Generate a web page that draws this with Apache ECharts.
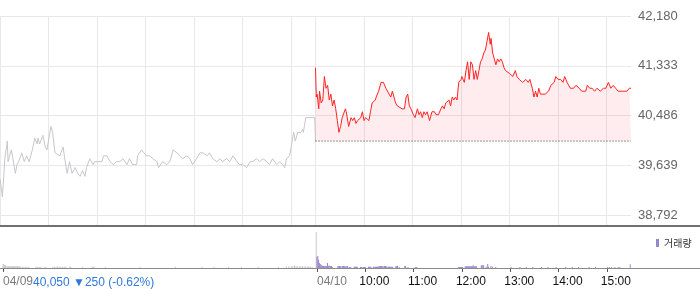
<!DOCTYPE html>
<html><head><meta charset="utf-8">
<script src="https://cdn.jsdelivr.net/npm/echarts/dist/echarts.min.js"></script>
<style>html,body{margin:0;padding:0;background:#fff}#c{width:700px;height:289px}</style>
</head><body><div id="c"></div>
<script>
// ---- data ----
// previous session (04/09): [minutes after 09:00, price]
const prevDay = [[0,39400],[3,39100],[6,39750],[9,40050],[10,39700],[14,39900],[16,39750],[19,39500],[21,39650],[23,39700],[27,39850],[30,39700],[33,39800],[36,39700],[40,39900],[43,40100],[46,40000],[47,40100],[49,40000],[53,40150],[56,39950],[58,39900],[63,40300],[65,40200],[68,39850],[70,39850],[74,39800],[78,39950],[80,39750],[83,39500],[86,39700],[89,39500],[93,39600],[96,39500],[99,39450],[102,39550],[105,39450],[107,39600],[111,39750],[115,39650],[117,39700],[121,39700],[126,39700],[128,39800],[132,39800],[136,39700],[140,39650],[144,39700],[148,39700],[152,39750],[157,39650],[160,39750],[164,39650],[169,39650],[170,39800],[175,39900],[178,39850],[181,39800],[185,39800],[189,39750],[194,39700],[196,39600],[201,39700],[206,39650],[210,39700],[214,39900],[219,39850],[222,39800],[226,39750],[231,39800],[235,39750],[238,39650],[243,39750],[247,39850],[251,39850],[256,39800],[259,39850],[263,39750],[268,39700],[272,39750],[275,39700],[280,39750],[284,39700],[288,39800],[293,39700],[296,39650],[300,39650],[305,39600],[309,39700],[312,39700],[317,39750],[321,39700],[325,39750],[330,39700],[333,39650],[337,39750],[342,39650],[346,39700],[349,39650],[352,39600],[354,39750],[358,39800],[360,39950],[363,40200],[365,40050],[368,40200],[372,40200],[374,40250],[375,40200],[378,40450],[386,40450],[389,40450],[390,40050]];
// current session (04/10): [minutes after 09:00, price]
const today = [[0,41300],[1,40800],[2,40850],[4,40600],[5,40900],[7,40700],[9,40750],[11,41150],[13,40950],[15,41000],[17,40750],[19,40850],[21,40650],[23,40750],[25,40600],[27,40400],[29,40200],[31,40300],[33,40450],[37,40600],[38,40550],[41,40300],[44,40450],[46,40400],[48,40450],[50,40350],[52,40400],[54,40400],[56,40450],[58,40550],[60,40400],[62,40450],[66,40400],[68,40550],[70,40700],[74,40750],[75,40800],[78,40900],[81,41050],[84,41050],[87,40950],[89,40950],[91,40850],[93,40800],[95,40900],[97,40800],[99,40700],[101,40650],[103,40650],[107,40600],[110,40600],[112,40800],[114,40850],[116,40650],[118,40600],[121,40500],[123,40450],[126,40600],[128,40500],[130,40550],[132,40450],[134,40550],[136,40500],[138,40550],[141,40400],[144,40550],[147,40550],[149,40500],[152,40500],[155,40600],[157,40650],[159,40600],[161,40700],[163,40700],[165,40750],[167,40650],[169,40800],[171,40750],[173,40800],[175,40750],[177,41050],[180,41100],[181,41150],[184,41050],[186,41250],[188,41400],[190,41100],[192,41400],[194,41350],[196,41100],[198,41250],[200,41100],[202,41250],[204,41400],[206,41450],[208,41550],[210,41600],[212,41750],[214,41900],[216,41700],[217,41800],[219,41550],[221,41450],[223,41350],[225,41450],[227,41400],[229,41450],[231,41400],[233,41300],[235,41250],[237,41250],[240,41200],[241,41200],[244,41150],[247,41250],[249,41150],[252,41100],[256,41050],[260,41100],[263,41050],[265,41100],[268,40950],[270,40800],[272,40900],[274,40800],[276,40950],[278,40850],[280,40850],[284,40850],[288,40900],[291,41000],[295,41050],[297,41150],[300,41100],[303,41100],[306,41050],[308,41150],[311,41050],[315,40950],[319,40950],[322,41000],[326,40950],[329,40900],[334,40900],[336,41000],[339,40950],[342,40950],[345,40900],[348,40950],[352,40900],[356,40950],[359,40950],[362,41050],[365,40950],[368,41000],[371,40950],[374,40900],[379,40900],[385,40900],[388,40950],[390,40950]];
// volume (thousand shares): [minutes after 09:00, volume]
const prevVol = [[0,10],[1,10],[2,7],[3,7],[4,4],[5,4],[6,4],[7,4],[8,4],[9,4],[10,4],[11,4],[12,4],[13,4],[14,4],[15,4],[16,4],[17,4],[18,4],[19,4],[20,4],[21,4],[22,3],[24,3],[26,3],[28,3],[30,3],[32,3],[41,3],[43,3],[45,3],[47,3],[52,3],[53,3],[62,3],[64,3],[66,3],[68,4],[70,3],[72,3],[74,3],[76,3],[78,3],[83,3],[84,3],[99,3],[111,3],[112,3],[113,3],[127,3],[170,3],[214,3],[247,3],[262,3],[280,3],[296,3],[317,3],[342,3],[352,4],[355,4],[358,4],[360,5],[362,7],[364,5],[366,4],[368,4],[370,4],[372,4],[374,4],[376,4],[378,4],[380,4],[382,3],[384,3],[389,88]];
const todayVol = [[0,27],[1,29],[2,20],[3,12],[4,10],[5,8],[6,7],[7,5],[8,5],[9,5],[10,5],[11,5],[12,5],[13,12],[14,5],[15,6],[16,5],[17,5],[18,5],[19,2.5],[26,5],[27,5],[28,5],[29,4],[31,5],[32,5],[33,5],[34,4],[35,5],[37,5],[38,5],[40,2.5],[41,2.5],[42,2.5],[46,3],[47,3],[48,3],[49,3],[50,3],[54,2.5],[55,2.5],[56,2.5],[58,2.5],[59,2.5],[60,2.5],[64,3],[65,3],[66,3],[67,3],[70,3],[71,3],[72,3],[73,3],[74,3],[75,3],[76,3],[77,5],[78,5],[79,5],[80,5],[81,5],[83,5],[84,5],[85,5],[86,5],[88,3],[89,3],[90,3],[91,3],[92,3],[93,3],[94,3],[98,5],[99,5],[100,5],[102,2.5],[109,5],[110,5],[113,2.5],[122,2.5],[123,2.5],[124,2.5],[176,2.5],[177,2.5],[178,2.5],[179,2.5],[180,2.5],[181,2.5],[184,4],[185,4],[186,4],[187,4],[188,4],[189,4],[190,4],[191,4],[192,4],[193,4],[194,7],[195,4],[196,4],[197,4],[198,4],[204,7],[205,7],[206,7],[207,7],[210,3],[212,10],[213,3],[216,5],[218,3],[222,2.5],[241,2.5],[252,2.5],[260,2.5],[268,2.5],[279,2.5],[287,2.5],[297,2.5],[309,2.5],[317,2.5],[325,2.5],[338,2.5],[346,2.5],[361,2.5],[363,2.5],[366,2.5],[370,2.5],[374,2.5],[376,2.5],[389,9]];
const prevClose = 40050;
const prevChange = -250;
const prevChangePct = -0.62;
// axes
const yTicks = [38792, 39639, 40486, 41333, 42180];
const gridIdx = [0,60,120,180,240,300,360,390,450,510,570,630,690,750];
const xTickIdx = [0,390,450,510,570,630,690,750];
const xTickLabels = ['04/09','04/10','10:00','11:00','12:00','13:00','14:00','15:00'];
const dateLabels = ['04/09','04/10'];
const volMax = 100;

// ---- build ----
const SESSION = 390;
const cats = [];
for (let i = 0; i <= 2 * SESSION; i++) {
  const d = i < SESSION ? '04/09' : '04/10';
  const m = i < SESSION ? i : i - SESSION;
  const h = 9 + Math.floor(m / 60), mm = m % 60;
  cats.push(d + ' ' + String(h).padStart(2, '0') + ':' + String(mm).padStart(2, '0'));
}
const splitSet = new Set(gridIdx);
const tickSet = new Set(xTickIdx);
const FONT = '"Liberation Sans", Arial, sans-serif';
const fmt = v => Number(v).toLocaleString('en-US');

const chart = echarts.init(document.getElementById('c'), null, {renderer: 'canvas'});
chart.setOption({
  animation: false,
  backgroundColor: '#fff',
  grid: [
    {left: 0, top: 16, width: 631, height: 199},
    {left: 0, top: 227, width: 631, height: 41},
    {left: 0, top: 215, width: 631, height: 10}
  ],
  legend: {
    data: ['거래량'], left: 651, top: 233, icon: 'rect', itemWidth: 3, itemHeight: 8,
    selectedMode: false,
    textStyle: {fontSize: 10, color: '#333', fontFamily: '"Noto Sans CJK KR", sans-serif'}
  },
  xAxis: [
    {type: 'category', gridIndex: 0, data: cats, boundaryGap: false,
     axisLine: {show: false}, axisTick: {show: false}, axisLabel: {show: false},
     splitLine: {show: true, interval: i => splitSet.has(i), lineStyle: {color: '#e8e8e8', width: 1}}},
    {type: 'category', gridIndex: 1, data: cats, boundaryGap: false,
     axisLine: {show: false},
     axisTick: {show: true, interval: i => tickSet.has(i), length: 4, lineStyle: {color: '#555'}},
     axisLabel: {show: true, interval: i => tickSet.has(i), margin: 8,
       formatter: (v, i) => {
         const k = xTickIdx.indexOf(i);
         if (k < 0) return '';
         const t = xTickLabels[k];
         return dateLabels.includes(t) ? '{d|' + t + '}' : '{t|' + t + '}';
       },
       rich: {
         d: {color: '#7a7a7a', fontSize: 12, fontFamily: FONT, padding: [0, 0, 0, 30]},
         t: {color: '#111', fontSize: 12, fontFamily: FONT, padding: [0, 0, 0, 18]}
       }},
     splitLine: {show: false}},
    {type: 'category', gridIndex: 2, data: cats, boundaryGap: false,
     axisLine: {show: false}, axisTick: {show: false}, axisLabel: {show: false},
     splitLine: {show: true, interval: i => splitSet.has(i), lineStyle: {color: '#e8e8e8', width: 1}}}
  ],
  yAxis: [
    {type: 'value', gridIndex: 0, position: 'right',
     min: yTicks[0], max: yTicks[yTicks.length - 1], interval: yTicks[1] - yTicks[0],
     axisLine: {show: false}, axisTick: {show: false},
     splitLine: {show: true, lineStyle: {color: '#e8e8e8', width: 1}},
     axisLabel: {margin: 7, color: '#666', fontSize: 13, fontFamily: FONT, formatter: v => fmt(v)}},
    {type: 'value', gridIndex: 1, min: 0, max: volMax, show: false, splitLine: {show: false}},
    {type: 'value', gridIndex: 2, min: 0, max: 1, show: false, splitLine: {show: false}}
  ],
  series: [
    {type: 'line', name: '04/09', xAxisIndex: 0, yAxisIndex: 0, symbol: 'none',
     data: prevDay.map(([m, p]) => [m, p]),
     lineStyle: {color: '#c6c6cb', width: 1}, z: 2},
    {type: 'line', name: '04/10', xAxisIndex: 0, yAxisIndex: 0, symbol: 'none',
     data: today.map(([m, p]) => [m + SESSION, p]),
     lineStyle: {color: '#ff2323', width: 1},
     areaStyle: {origin: prevClose, color: 'rgba(250,40,60,0.12)'},
     z: 3},
    {type: 'line', name: 'base', xAxisIndex: 0, yAxisIndex: 0, symbol: 'none', silent: true,
     data: [[SESSION, prevClose], [2 * SESSION, prevClose]],
     lineStyle: {color: '#333', width: 1, type: [1, 2]}, z: 4},
    {type: 'bar', name: 'prevVol', xAxisIndex: 1, yAxisIndex: 1, barWidth: 1, barGap: '-100%',
     data: prevVol.map(([m, v]) => [m, v]), itemStyle: {color: '#c8c8c8'}},
    {type: 'bar', name: '거래량', xAxisIndex: 1, yAxisIndex: 1, barWidth: 1, barGap: '-100%',
     data: todayVol.map(([m, v]) => [m + SESSION, v]), itemStyle: {color: '#9a86cc'}}
  ],
  graphic: [
    {type: 'line', shape: {x1: 0, y1: 226, x2: 700, y2: 226}, style: {stroke: '#707070', lineWidth: 2}, z: 10, silent: true},
    {type: 'line', shape: {x1: 0, y1: 268.5, x2: 700, y2: 268.5}, style: {stroke: '#8a8a8a', lineWidth: 1}, z: 10, silent: true},
    {type: 'text', left: 33, top: 277, silent: true,
     style: {text: fmt(prevClose) + ' ▼' + Math.abs(prevChange) + ' (' + prevChangePct.toFixed(2) + '%)',
             fill: '#2f78dc', font: '12px ' + FONT}}
  ]
});
</script></body></html>
